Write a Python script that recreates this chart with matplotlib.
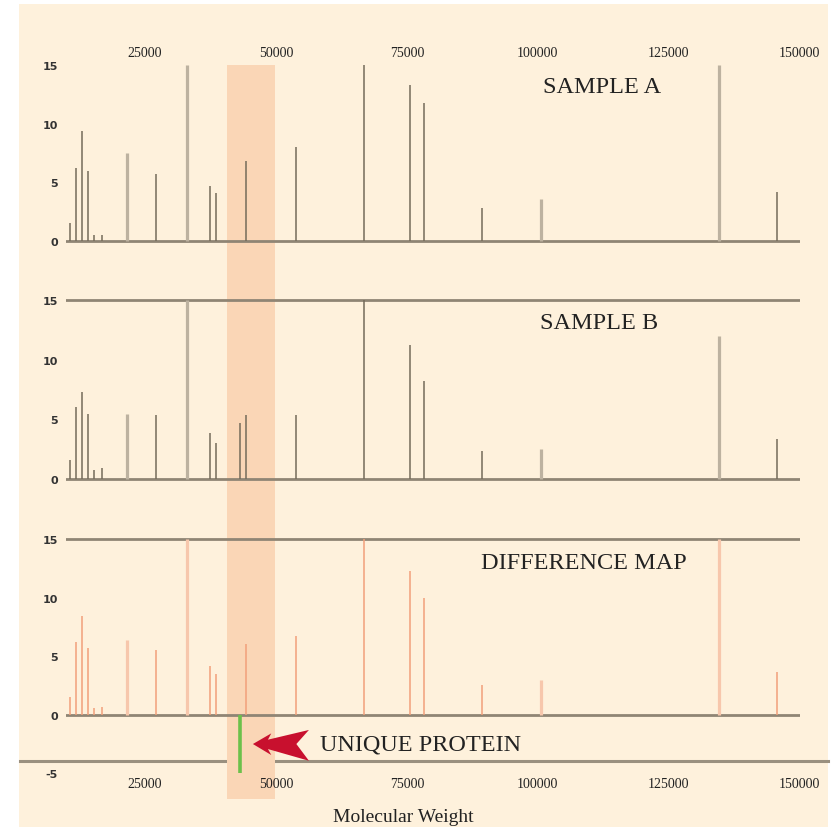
import numpy as np
import matplotlib.pyplot as plt
from matplotlib.patches import Rectangle

# peak positions (molecular weight) shared by both samples
mw = [10650, 11800, 13000, 14100, 15300, 16800, 21500, 27100, 33100, 37400,
      38500, 44300, 53900, 66900, 75700, 78300, 89400, 100700, 134700, 145700]
sample_a = [1.5, 6.2, 9.4, 6.0, 0.5, 0.5, 7.5, 5.7, 15, 4.7,
            4.1, 6.85, 8.0, 15, 13.3, 11.8, 2.8, 3.6, 15, 4.2]
sample_b = [1.6, 6.0, 7.3, 5.4, 0.75, 0.9, 5.4, 5.3, 15, 3.8,
            2.95, 5.3, 5.3, 15, 11.2, 8.2, 2.3, 2.45, 12.0, 3.3]
difference = [1.5, 6.2, 8.4, 5.7, 0.6, 0.7, 6.4, 5.5, 15, 4.2,
              3.5, 6.0, 6.7, 15, 12.3, 10.0, 2.56, 2.96, 15, 3.67]

# protein only present in sample B
unique_mw = 43100
unique_b = 4.7
unique_diff = -5

highlight = (40600, 49800)
xticks = [25000, 50000, 75000, 100000, 125000, 150000]

# broad bands are drawn wider and lighter
broad = [False] * 6 + [True, False, True] + [False] * 8 + [True, True, False]

cream = '#fef1dc'
band = '#fad6b6'
grey = '#8f8574'
dark = '#746b5a'
light = '#bdb2a0'
salmon = '#f2a07b'
salmon_light = '#f7c7ac'
serif = 'Liberation Serif'
ink = '#222222'

W, H = 831, 828
fig = plt.figure(figsize=(W / 100, H / 100), dpi=100, facecolor='white')
fig.patches.append(Rectangle((19 / W, 0), (828 - 19) / W, (H - 5) / H,
                             transform=fig.transFigure, facecolor=cream,
                             edgecolor='none', zorder=-10))


def make_axes(top, bottom):
    ax = fig.add_axes([66 / W, 1 - bottom / H, (800 - 66) / W, (bottom - top) / H])
    ax.set_facecolor('none')
    for s in ax.spines.values():
        s.set_visible(False)
    ax.set_xlim(9900, 150100)
    ax.tick_params(length=0)
    return ax


def draw_peaks(ax, values, thin_c, broad_c):
    for m, v, b in zip(mw, values, broad):
        ax.vlines(m, 0, v, color=broad_c if b else thin_c,
                  lw=2.3 if b else 1.1, zorder=3, clip_on=False)
    ax.axhline(0, color=grey, lw=2, zorder=2)


def yticks(ax, ticks):
    ax.set_yticks(ticks)
    ax.set_yticklabels([str(t) for t in ticks], fontsize=8,
                       fontweight='bold', color='#333333')
    ax.tick_params(axis='y', pad=6)


def title(ax, x, y, s):
    ax.text(x, y, s, transform=ax.transAxes, ha='center', va='center',
            family=serif, fontsize=17.5, color=ink)


ax_a = make_axes(66, 260)
ax_a.set_ylim(-1.53, 15)
ax_a.axvspan(*highlight, color=band, lw=0, zorder=1)
draw_peaks(ax_a, sample_a, dark, light)
yticks(ax_a, [0, 5, 10, 15])
ax_a.xaxis.tick_top()
ax_a.set_xticks(xticks)
ax_a.set_xticklabels([str(t) for t in xticks], family=serif, fontsize=10,
                     color=ink)
ax_a.tick_params(axis='x', pad=4)
title(ax_a, 0.731, 0.889, 'SAMPLE A')

ax_b = make_axes(260, 498)
ax_b.set_ylim(-1.55, 18.45)
ax_b.axvspan(*highlight, color=band, lw=0, zorder=1)
draw_peaks(ax_b, sample_b, dark, light)
ax_b.vlines(unique_mw, 0, unique_b, color=dark, lw=1.1, zorder=3)
ax_b.axhline(15, color=grey, lw=2, zorder=2)
yticks(ax_b, [0, 5, 10, 15])
ax_b.set_xticks([])
title(ax_b, 0.726, 0.735, 'SAMPLE B')

ax_c = make_axes(498, 775)
ax_c.set_ylim(-5.06, 18.59)
ax_c.axvspan(*highlight, ymin=-25 / 277, ymax=1, color=band, lw=0,
             zorder=1, clip_on=False)
draw_peaks(ax_c, difference, salmon, salmon_light)
ax_c.axhline(15, color=grey, lw=2, zorder=2)
# long rule across the whole figure, under the highlight band
ax_c.plot([1100, 155400], [-3.93, -3.93], color='#9a907f', lw=2.2,
          zorder=0, clip_on=False)
ax_c.vlines(unique_mw, 0, unique_diff, color='#6cc04a', lw=2.6, zorder=4,
            clip_on=False)
yticks(ax_c, [-5, 0, 5, 10, 15])
ax_c.set_xticks(xticks)
ax_c.set_xticklabels([str(t) for t in xticks], family=serif, fontsize=10,
                     color=ink)
ax_c.tick_params(axis='x', pad=2)
ax_c.set_xlabel('Molecular Weight', family=serif, fontsize=14, color=ink)
ax_c.xaxis.set_label_coords((403 - 66) / (800 - 66), -0.123)
title(ax_c, 0.705, 0.765, 'DIFFERENCE MAP')

# arrow pointing at the unique protein
tip_x, tip_y = 45600, -2.5
arrow = np.array([[0, 0], [3510, 0.91], [2870, 0.37], [10700, 1.2],
                  [8300, 0.0], [10700, -1.43], [2870, -0.43], [3510, -0.94]])
ax_c.fill(tip_x + arrow[:, 0], tip_y + arrow[:, 1], color='#c8102e',
          lw=0, zorder=5, clip_on=False)
ax_c.text(58400, -2.5, 'UNIQUE PROTEIN', ha='left', va='center',
          family=serif, fontsize=17.5, color=ink)

fig.savefig('out.png', dpi=100, facecolor='white')
